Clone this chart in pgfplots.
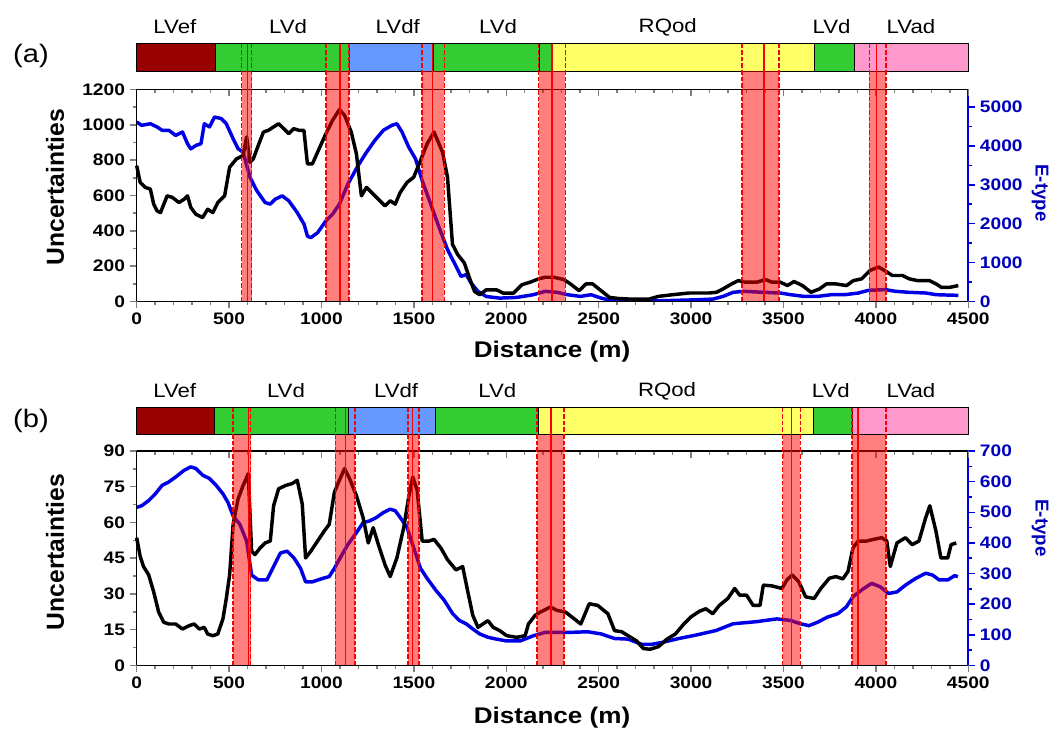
\documentclass[border=0pt]{standalone}
\usepackage{fontspec}
\setmainfont{Liberation Sans}[FakeStretch=1.15]
\newfontfamily\rotfont{Liberation Sans}
\usepackage{pgfplots}
\pgfplotsset{compat=1.18}

\definecolor{lvef}{HTML}{990000}
\definecolor{lvd}{HTML}{33CC33}
\definecolor{lvdf}{HTML}{6699FF}
\definecolor{rqod}{HTML}{FFFF66}
\definecolor{lvad}{HTML}{FF99CC}
\definecolor{eblue}{HTML}{0000E6}
\definecolor{lblue}{HTML}{0000BB}

\pgfplotsset{
  base/.style={scale only axis, width=623.7pt, xmin=0, xmax=4500,
    /pgf/number format/assume math mode=true,
    /pgf/number format/1000 sep={},
    tick label style={font=\fontsize{12.5}{14}\selectfont\bfseries},
    major tick length=5.25pt, minor tick length=3pt,
    tick style={line width=1.1pt},
    axis line style={line width=1.2pt},
    xtick={0,500,...,4500}, minor x tick num=4},
  rightax/.style={base, axis x line=none, axis y line*=right,
    tick align=outside, minor y tick num=1,
    y axis line style={eblue, line width=1.2pt},
    y tick style={eblue}, y tick label style={lblue}},
  topax/.style={base, axis x line*=top, axis y line=none,
    tick align=inside, xticklabels={}, ymin=0, ymax=1},
  mainax/.style={base, axis x line*=bottom, axis y line*=left,
    tick align=outside, minor y tick num=1, clip=false},
  redband/.style={draw=none, fill=red, fill opacity=0.5, forget plot},
  bedge/.style={red, line width=1.2pt, dash pattern=on 3.5pt off 1.5pt},
  bmid/.style={red, line width=1.2pt},
  seg/.style={draw=black, line width=0.7pt},
  blk/.style={black, line width=2.6pt, line join=round},
  blu/.style={eblue, line width=2.6pt, line join=round},
}
% left, right, centre, strip bottom, strip top
\newcommand{\band}[5]{%
  \addplot[redband] coordinates {(#1,0)(#2,0)(#2,#4)(#1,#4)} -- cycle;
  \addplot[bedge] coordinates {(#1,0)(#1,#5)};
  \addplot[bedge] coordinates {(#2,0)(#2,#5)};
  \addplot[bmid] coordinates {(#3,0)(#3,#5)};
}
\newcommand{\slab}[2]{\node[font=\fontsize{14.5}{16}\selectfont] at (axis cs:#1) {#2};}

\begin{document}
\begin{tikzpicture}
% ---------------- panel (a) ----------------
\begin{axis}[rightax, height=159pt, at={(102.5pt,-226.1pt)}, anchor=south west,
  ymin=0, ymax=5450, ytick={0,1000,...,5000}]
\addplot[blu] coordinates {
(0,4614)(27,4528)(74,4569)(110,4487)(138,4401)(174,4401)(211,4269)(248,4355)(275,4056)(293,3924)
(320,4010)(348,4056)(366,4569)(394,4487)(421,4741)(458,4701)(485,4569)(522,4183)(549,3924)(576,3838)
(613,3193)(650,2848)(695,2543)(723,2502)(750,2630)(787,2716)(823,2589)(869,2284)(906,1985)(924,1680)
(942,1640)(979,1767)(1024,2071)(1060,2244)(1097,2502)(1143,3020)(1198,3493)(1244,3838)(1289,4142)
(1335,4401)(1381,4528)(1408,4569)(1436,4355)(1472,3969)(1509,3665)(1545,3107)(1591,2502)(1637,1898)
(1682,1335)(1728,904)(1755,645)(1783,690)(1810,472)(1847,259)(1892,127)(1965,86)(2057,104)(2147,174)
(2211,261)(2275,235)(2330,174)(2403,130)(2458,174)(2513,87)(2568,26)(2660,10)(2770,10)(2898,26)
(3027,43)(3118,61)(3173,130)(3228,235)(3283,261)(3393,235)(3484,217)(3539,174)(3612,130)(3685,130)
(3758,174)(3832,174)(3905,217)(3960,287)(4051,304)(4106,261)(4180,235)(4271,217)(4326,174)(4446,157)};
\end{axis}
\begin{axis}[topax, height=159pt, at={(102.5pt,-226.1pt)}, anchor=south west]
\end{axis}
\begin{axis}[mainax, height=159pt, at={(102.5pt,-226.1pt)}, anchor=south west,
  ymin=0, ymax=1200, ytick={0,200,...,1200}]
\addplot[blk] coordinates {
(0,769)(19,674)(46,646)(74,636)(92,551)(110,513)(129,503)(147,551)(165,598)(193,589)(229,560)(257,579)
(275,598)(293,532)(320,494)(357,475)(384,522)(412,503)(439,560)(476,598)(503,760)(540,807)(576,826)
(595,931)(613,788)(631,807)(658,883)(686,959)(713,969)(741,988)(768,1006)(796,978)(823,950)(850,978)
(878,969)(905,969)(924,779)(951,779)(987,864)(1024,950)(1060,1025)(1097,1086)(1125,1054)(1161,959)
(1189,836)(1216,598)(1244,646)(1271,617)(1298,589)(1344,541)(1372,570)(1399,551)(1426,617)(1463,674)
(1499,703)(1536,798)(1572,893)(1609,959)(1655,845)(1682,703)(1709,323)(1737,266)(1773,218)(1801,133)
(1828,57)(1856,38)(1892,66)(1947,66)(1984,47)(2039,47)(2085,95)(2129,109)(2175,128)(2211,137)(2257,137)
(2312,124)(2348,99)(2394,61)(2431,99)(2468,99)(2513,61)(2559,23)(2605,17)(2678,13)(2770,13)(2825,29)
(2898,38)(2990,48)(3100,48)(3137,52)(3173,71)(3219,99)(3256,118)(3292,109)(3356,109)(3402,124)
(3439,109)(3484,109)(3521,90)(3557,113)(3603,90)(3649,52)(3695,71)(3732,99)(3786,99)(3841,90)
(3878,118)(3923,128)(3969,176)(4015,195)(4061,166)(4089,147)(4144,147)(4181,128)(4226,118)(4290,118)
(4327,99)(4354,80)(4400,80)(4446,90)};
% geology strip
\addplot[seg, fill=lvef] coordinates {(0,1304.7)(427,1304.7)(427,1458.1)(0,1458.1)} -- cycle;
\addplot[seg, fill=lvd]  coordinates {(427,1304.7)(1149,1304.7)(1149,1458.1)(427,1458.1)} -- cycle;
\addplot[seg, fill=lvdf] coordinates {(1149,1304.7)(1605,1304.7)(1605,1458.1)(1149,1458.1)} -- cycle;
\addplot[seg, fill=lvd]  coordinates {(1605,1304.7)(2180,1304.7)(2180,1458.1)(1605,1458.1)} -- cycle;
\addplot[seg, fill=lvd]  coordinates {(2180,1304.7)(2250,1304.7)(2250,1458.1)(2180,1458.1)} -- cycle;
\addplot[seg, fill=rqod] coordinates {(2250,1304.7)(3668,1304.7)(3668,1458.1)(2250,1458.1)} -- cycle;
\addplot[seg, fill=lvd]  coordinates {(3668,1304.7)(3884,1304.7)(3884,1458.1)(3668,1458.1)} -- cycle;
\addplot[seg, fill=lvad] coordinates {(3884,1304.7)(4500,1304.7)(4500,1458.1)(3884,1458.1)} -- cycle;
\band{568}{622}{600}{1304.7}{1458.1}
\band{1025}{1150}{1100}{1304.7}{1458.1}
\band{1545}{1665}{1600}{1304.7}{1458.1}
\band{2175}{2320}{2247}{1304.7}{1458.1}
\band{3275}{3475}{3395}{1304.7}{1458.1}
\band{3965}{4055}{4003}{1304.7}{1458.1}
\slab{207,1554}{LVef}
\slab{819,1554}{LVd}
\slab{1413,1554}{LVdf}
\slab{1956,1554}{LVd}
\slab{2874,1554}{RQod}
\slab{3760,1554}{LVd}
\slab{4190,1554}{LVad}
\end{axis}

% ---------------- panel (b) ----------------
\begin{axis}[rightax, height=160.9pt, at={(102.5pt,-499.1pt)}, anchor=south west,
  ymin=0, ymax=700, ytick={0,100,...,700}]
\addplot[blu] coordinates {
(0,516)(27,521)(65,538)(101,560)(138,588)(174,599)(211,615)(257,637)(293,648)(320,643)(357,621)
(394,610)(430,588)(467,560)(494,532)(522,488)(558,461)(595,406)(622,295)(659,279)(705,279)(741,323)
(778,367)(814,373)(851,351)(887,317)(914,273)(951,273)(1006,284)(1042,290)(1070,317)(1106,356)
(1143,395)(1189,433)(1225,466)(1262,472)(1298,483)(1335,499)(1372,510)(1399,505)(1426,483)(1463,450)
(1499,384)(1536,317)(1572,284)(1618,246)(1664,213)(1710,169)(1746,147)(1783,136)(1819,119)(1856,103)
(1901,92)(1947,86)(2002,80)(2075,80)(2147,97)(2211,108)(2275,108)(2348,108)(2440,110)(2513,103)
(2586,88)(2659,86)(2733,69)(2787,69)(2842,75)(2934,88)(3025,99)(3135,114)(3227,136)(3355,143)
(3464,152)(3538,147)(3592,136)(3638,130)(3684,141)(3739,158)(3794,169)(3840,191)(3876,224)(3922,246)
(3977,268)(4023,257)(4069,235)(4114,240)(4160,262)(4215,284)(4270,301)(4307,295)(4343,279)(4389,279)
(4426,293)(4444,290)};
\end{axis}
\begin{axis}[topax, height=160.9pt, at={(102.5pt,-499.1pt)}, anchor=south west]
\end{axis}
\begin{axis}[mainax, height=160.9pt, at={(102.5pt,-499.1pt)}, anchor=south west,
  ymin=0, ymax=90, ytick={0,15,...,90}]
\addplot[blk] coordinates {
(0,53.6)(19,45.8)(37,41.5)(65,38.0)(92,30.9)(119,22.4)(147,18.1)(174,17.4)(211,17.4)(248,15.3)
(284,16.7)(311,17.4)(339,15.3)(366,16.0)(384,13.2)(412,12.5)(439,13.2)(467,19.6)(485,28.1)(503,38.0)
(522,59.2)(549,69.9)(576,75.5)(604,80.5)(622,47.9)(640,46.5)(668,49.3)(695,51.4)(723,52.2)(741,67.0)
(768,74.1)(805,75.5)(841,76.3)(869,77.7)(896,67.7)(914,45.1)(942,47.9)(979,52.2)(1015,56.4)(1042,59.2)
(1070,72.7)(1097,77.7)(1125,82.6)(1152,78.4)(1189,71.3)(1225,62.1)(1253,51.4)(1280,57.8)(1308,50.7)
(1344,42.2)(1372,37.3)(1408,45.1)(1445,57.8)(1472,70.6)(1494,79.1)(1518,73.4)(1545,52.2)(1582,52.2)
(1609,52.9)(1646,49.3)(1682,44.4)(1728,40.1)(1764,41.5)(1792,30.9)(1819,21.0)(1847,16.0)(1874,17.4)
(1901,18.8)(1929,16.0)(1965,14.6)(2002,12.5)(2057,11.8)(2102,12.5)(2120,17.4)(2156,21.0)(2184,22.4)
(2239,24.5)(2275,23.1)(2321,22.4)(2367,19.6)(2403,17.4)(2449,25.9)(2495,25.2)(2550,21.7)(2586,14.6)
(2623,14.2)(2659,12.5)(2705,10.3)(2742,7.1)(2778,6.8)(2824,7.9)(2870,11.1)(2915,13.2)(2961,17.4)
(2998,20.3)(3044,22.7)(3080,23.8)(3117,21.7)(3153,25.2)(3199,28.1)(3236,32.3)(3263,29.5)(3300,29.5)
(3336,25.2)(3373,25.2)(3391,33.7)(3437,33.4)(3492,32.3)(3519,35.9)(3547,38.0)(3583,35.1)(3620,28.8)
(3666,28.1)(3702,32.3)(3748,36.6)(3784,37.3)(3821,36.3)(3849,39.4)(3876,49.3)(3904,52.2)(3949,52.2)
(3986,52.9)(4032,53.6)(4059,52.2)(4078,41.5)(4114,51.4)(4160,53.6)(4197,50.7)(4233,52.2)(4270,62.1)
(4292,67.0)(4325,56.4)(4352,45.1)(4389,45.1)(4407,50.7)(4435,51.4)};
\addplot[seg, fill=lvef] coordinates {(0,96.76)(421,96.76)(421,108.13)(0,108.13)} -- cycle;
\addplot[seg, fill=lvd]  coordinates {(421,96.76)(1144,96.76)(1144,108.13)(421,108.13)} -- cycle;
\addplot[seg, fill=lvdf] coordinates {(1144,96.76)(1619,96.76)(1619,108.13)(1144,108.13)} -- cycle;
\addplot[seg, fill=lvd]  coordinates {(1619,96.76)(2175,96.76)(2175,108.13)(1619,108.13)} -- cycle;
\addplot[seg, fill=rqod] coordinates {(2175,96.76)(3660,96.76)(3660,108.13)(2175,108.13)} -- cycle;
\addplot[seg, fill=lvd]  coordinates {(3660,96.76)(3875,96.76)(3875,108.13)(3660,108.13)} -- cycle;
\addplot[seg, fill=lvad] coordinates {(3875,96.76)(4500,96.76)(4500,108.13)(3875,108.13)} -- cycle;
\band{520}{617}{605}{96.76}{108.13}
\band{1075}{1180}{1130}{96.76}{108.13}
\band{1467}{1527}{1492}{96.76}{108.13}
\band{2165}{2311}{2242}{96.76}{108.13}
\band{3495}{3592}{3543}{96.76}{108.13}
\band{3871}{4054}{3902}{96.76}{108.13}
\slab{206,115.2}{LVef}
\slab{808,115.2}{LVd}
\slab{1404,115.2}{LVdf}
\slab{1952,115.2}{LVd}
\slab{2870,115.2}{RQod}
\slab{3756,115.2}{LVd}
\slab{4190,115.2}{LVad}
\end{axis}

% labels
\node[font=\fontsize{19}{21}\selectfont] at (23.25pt,-42pt) {(a)};
\node[font=\fontsize{19}{21}\selectfont] at (23.25pt,-315.75pt) {(b)};
\node[rotate=90, font=\rotfont\bfseries\fontsize{18.5}{20}\selectfont] at (41.25pt,-140.5pt) {Uncertainties};
\node[rotate=90, font=\rotfont\bfseries\fontsize{18.5}{20}\selectfont] at (41.25pt,-414pt) {Uncertainties};
\node[rotate=-90, text=lblue, font=\rotfont\bfseries\fontsize{14}{16}\selectfont] at (780pt,-144.75pt) {E-type};
\node[rotate=-90, text=lblue, font=\rotfont\bfseries\fontsize{14}{16}\selectfont] at (780pt,-396pt) {E-type};
\node[font=\bfseries\fontsize{17}{19}\selectfont] at (414pt,-264pt) {Distance (m)};
\node[font=\bfseries\fontsize{17}{19}\selectfont] at (414pt,-538.5pt) {Distance (m)};
\pgfresetboundingbox
\useasboundingbox (0,0) rectangle (786.75pt,-548.25pt);
\end{tikzpicture}
\end{document}
